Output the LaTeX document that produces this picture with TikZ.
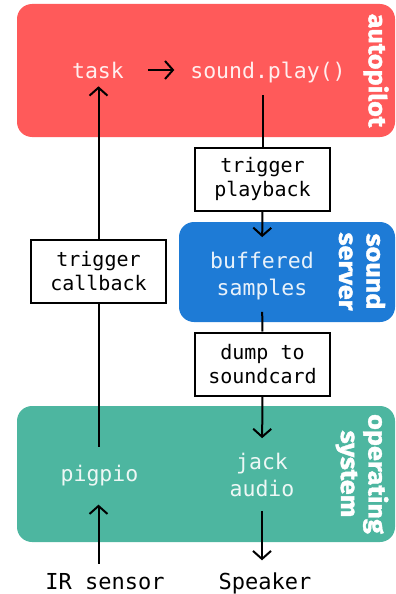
\documentclass[tikz,border=0pt]{standalone}
\usepackage{fontspec}
\usetikzlibrary{arrows.meta}
\newfontfamily\monofont{DejaVu Sans Mono}
\newfontfamily\labfont{Fira Sans Bold}[FakeBold=1.6,FakeStretch=1.1]
\definecolor{apred}{HTML}{FF5A5A}
\definecolor{ssblue}{HTML}{1E7BD6}
\definecolor{osteal}{HTML}{4DB6A0}
\begin{document}
\begin{tikzpicture}[x=1pt,y=-1pt,
  every path/.style={line width=2pt},
  panel/.style={rounded corners=15pt},
  wtext/.style={inner sep=0pt, text=white, text opacity=0.9, align=center,
     font=\monofont\fontsize{21.5}{27}\selectfont},
  btext/.style={inner sep=0pt, text=black, align=center,
     font=\monofont\fontsize{22}{27}\selectfont},
  labelbox/.style={draw=black, fill=white, line width=2pt, inner sep=0pt,
     minimum width=135pt, minimum height=63pt, align=center,
     font=\monofont\fontsize{20}{24}\selectfont},
  sidelab/.style={rotate=-90, inner sep=0pt, text=white, align=center,
     font=\labfont\fontsize{24.5}{27.5}\selectfont},
  arr/.style={-{Straight Barb[length=8pt,width=18pt,line width=2pt]}}
]
\useasboundingbox (0,0) rectangle (396,594);
% panels
\fill[apred, panel] (17,4) rectangle (395,137);
\fill[ssblue, panel] (179,222) rectangle (395,322);
\fill[osteal, panel] (17,406) rectangle (395,542);
% side labels
\node[sidelab] (lap) at (376,70.5) {autopilot};
\node[sidelab] (lss) at (362,271.5) {sound\\server};
\node[sidelab] (los) at (362,474) {operating\\system};
% text nodes
\node[wtext, anchor=base] (task) at (98,78) {task};
\node[wtext, anchor=base] (play) at (268,78) {sound.play()};
\node[wtext] (buf) at (262,276) {buffered\\samples};
\node[wtext] (jack) at (262,475) {jack\\audio};
\node[wtext, anchor=base] (pig) at (99.5,481) {pigpio};
\node[btext, anchor=base] (ir) at (105,589) {IR sensor};
\node[btext, anchor=base] (spk) at (265,589) {Speaker};
% boxes
\node[labelbox] (trig) at (262.5,179) {trigger\\playback};
\node[labelbox] (dump) at (262.5,364) {dump to\\soundcard};
\node[labelbox] (cb) at (98.5,271.5) {trigger\\callback};
% connectors
\draw[arr, shorten <=23pt, shorten >=15pt] (task.east) -- (task.east -| play.west);
\draw[shorten >=12pt] (trig.north) -- (trig.north |- play.south);
\draw[arr, shorten >=14pt] (trig.south) -- (buf.north);
\draw[shorten <=11pt] (buf.south) -- (dump.north);
\draw[arr, shorten >=14pt] (dump.south) -- (jack.north);
\draw[arr, shorten <=13pt, shorten >=11pt] (jack.south) -- (jack.south |- spk.north);
\draw[arr, shorten <=8pt, shorten >=18pt] (ir.north -| cb) -- (pig.south -| cb);
\draw[shorten <=17pt] (pig.north -| cb) -- (cb.south);
\draw[arr, shorten >=7pt] (cb.north) -- (cb.north |- task.south);
\end{tikzpicture}
\end{document}
